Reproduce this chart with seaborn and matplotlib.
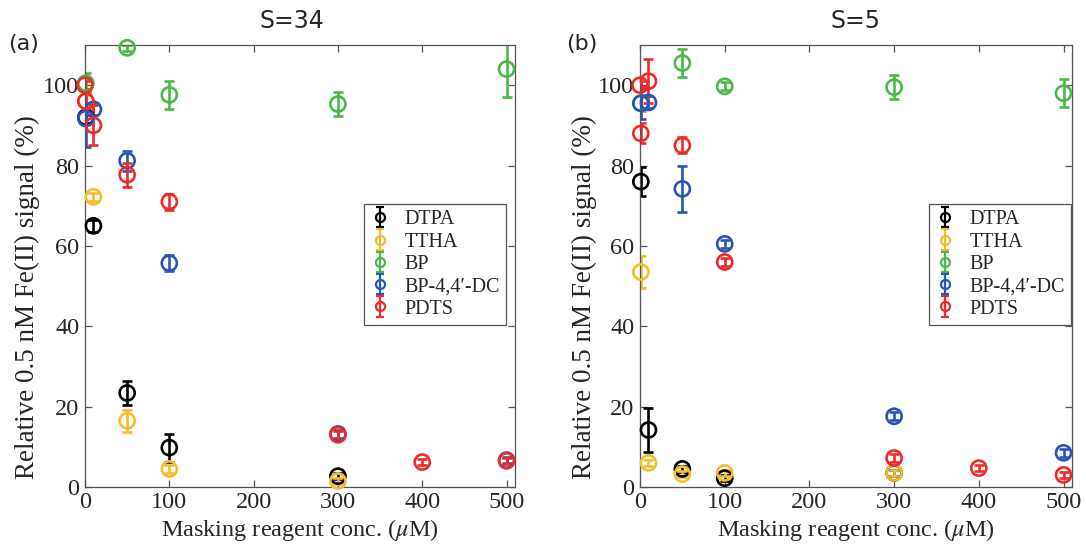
import numpy as np
import pandas as pd
import matplotlib
matplotlib.use("Agg")
import matplotlib.pyplot as plt
import seaborn as sns

# ---------------- data ----------------
reagents = ["DTPA", "TTHA", "BP", "BP-4,4\u2032-DC", "PDTS"]
colors = ["#000000", "#F2BE30", "#4CB848", "#2A55B8", "#EE2A2A"]

# panel (a) S=34
a_dtpa_x = [1, 10, 50, 100, 300]
a_dtpa_y = [92, 65, 23.4, 9.8, 2.7]
a_dtpa_e = [1.5, 1.5, 2.9, 3.5, 0.8]
a_ttha_x = [1, 10, 50, 100, 300]
a_ttha_y = [96, 72.2, 16.5, 4.5, 1.5]
a_ttha_e = [1.5, 1.0, 2.7, 1.0, 0.8]
a_bp_x = [1, 50, 100, 300, 500]
a_bp_y = [100.5, 109.3, 97.6, 95.3, 104]
a_bp_e = [2.5, 0.8, 3.5, 3.0, 7.0]
a_bpdc_x = [1, 10, 50, 100, 300, 500]
a_bpdc_y = [91.7, 94, 81.2, 55.7, 13.2, 6.7]
a_bpdc_e = [7.0, 1.5, 2.5, 2.0, 1.0, 0.8]
a_pdts_x = [0, 1, 10, 50, 100, 300, 400, 500]
a_pdts_y = [100, 96, 90, 77.7, 71, 13, 6.2, 6.5]
a_pdts_e = [1.0, 2.0, 5.0, 3.0, 2.0, 1.0, 0.8, 0.8]

# panel (b) S=5
b_dtpa_x = [1, 10, 50, 100, 300]
b_dtpa_y = [76, 14.2, 4.5, 2.2, 3.5]
b_dtpa_e = [3.7, 5.5, 0.8, 0.8, 0.8]
b_ttha_x = [1, 10, 50, 100, 300]
b_ttha_y = [53.5, 6, 3.2, 3.5, 3.5]
b_ttha_e = [4.0, 0.8, 0.8, 0.8, 0.8]
b_bp_x = [1, 50, 100, 300, 500]
b_bp_y = [95.5, 105.5, 99.7, 99.5, 98]
b_bp_e = [2.0, 3.5, 1.0, 3.0, 3.5]
b_bpdc_x = [1, 10, 50, 100, 300, 500]
b_bpdc_y = [95.5, 95.7, 74.2, 60.5, 17.6, 8.5]
b_bpdc_e = [4.0, 1.5, 5.8, 1.0, 1.0, 1.0]
b_pdts_x = [0, 1, 10, 50, 100, 300, 400, 500]
b_pdts_y = [100, 88, 101, 85, 56, 7.2, 4.7, 3.0]
b_pdts_e = [1.0, 2.5, 5.5, 2.0, 1.0, 1.0, 0.8, 0.8]

x_ticks = [0, 100, 200, 300, 400, 500]
y_ticks = [0, 20, 40, 60, 80, 100]
titles = ["S=34", "S=5"]
panel_labels = ["(a)", "(b)"]
xlabel = r"Masking reagent conc. ($\mu$M)"
ylabel = "Relative 0.5 nM Fe(II) signal (%)"


def make_df(series):
    rows = []
    for name, (xs, ys, es) in zip(reagents, series):
        for x, y, e in zip(xs, ys, es):
            rows.append({"reagent": name, "conc": x, "signal": y, "err": e})
    return pd.DataFrame(rows)


df_a = make_df([(a_dtpa_x, a_dtpa_y, a_dtpa_e), (a_ttha_x, a_ttha_y, a_ttha_e),
                (a_bp_x, a_bp_y, a_bp_e), (a_bpdc_x, a_bpdc_y, a_bpdc_e),
                (a_pdts_x, a_pdts_y, a_pdts_e)])
df_b = make_df([(b_dtpa_x, b_dtpa_y, b_dtpa_e), (b_ttha_x, b_ttha_y, b_ttha_e),
                (b_bp_x, b_bp_y, b_bp_e), (b_bpdc_x, b_bpdc_y, b_bpdc_e),
                (b_pdts_x, b_pdts_y, b_pdts_e)])

# ---------------- style ----------------
sns.set_theme(style="ticks")
plt.rcParams["font.family"] = ["Liberation Serif", "DejaVu Serif"]
plt.rcParams["mathtext.fontset"] = "stix"
plt.rcParams["axes.edgecolor"] = "#555555"
plt.rcParams["xtick.color"] = "#555555"
plt.rcParams["ytick.color"] = "#555555"
plt.rcParams["xtick.labelcolor"] = "#262626"
plt.rcParams["ytick.labelcolor"] = "#262626"

fig = plt.figure(figsize=(10.86, 5.53), dpi=100)
ax_a = fig.add_axes([85 / 1086, 66 / 553, 430 / 1086, 442 / 553])
ax_b = fig.add_axes([640 / 1086, 66 / 553, 432 / 1086, 442 / 553])

palette = dict(zip(reagents, colors))

for ax, df, title, tx, leg_x, ylx in [(ax_a, df_a, titles[0], 0.482, 0.979, -0.105),
                                      (ax_b, df_b, titles[1], 0.5, 0.998, -0.10)]:
    for name in reagents:
        d = df[df["reagent"] == name]
        ax.errorbar(d["conc"], d["signal"], yerr=d["err"], fmt="none",
                    ecolor=palette[name], elinewidth=1.9, capsize=3.8,
                    capthick=1.9, zorder=2, clip_on=True)
        sns.scatterplot(data=d, x="conc", y="signal", ax=ax, marker="o",
                        s=118, color=palette[name], legend=False, zorder=3,
                        clip_on=False)
    # make markers hollow
    for coll in ax.collections:
        if isinstance(coll, matplotlib.collections.PathCollection):
            fc = coll.get_facecolors()
            coll.set_edgecolors(fc)
            coll.set_facecolors("none")
            coll.set_linewidths(1.9)

    # legend proxies
    handles = []
    for name in reagents:
        h = ax.errorbar([np.nan], [np.nan], yerr=[np.nan], fmt="o",
                        color=palette[name], mfc="none", mec=palette[name],
                        ms=6.5, mew=1.6, elinewidth=1.6, capsize=2.8,
                        capthick=1.6, label=name)
        handles.append(h)
    leg = ax.legend(handles=handles, labels=reagents, loc="upper right",
                    bbox_to_anchor=(leg_x, 0.640), fontsize=14.5,
                    frameon=True, fancybox=False, framealpha=1,
                    edgecolor="#555555", handlelength=1.0,
                    handletextpad=0.7, labelspacing=0.16, borderpad=0.3,
                    borderaxespad=0)
    leg.get_frame().set_linewidth(0.9)

    ax.set_xlim(0, 510)
    ax.set_ylim(0, 110)
    ax.set_xticks(x_ticks)
    ax.set_yticks(y_ticks)
    ax.tick_params(direction="in", top=True, right=True, length=5,
                   width=0.9, labelsize=17.5)
    ax.tick_params(axis="y", pad=4)
    for sp in ax.spines.values():
        sp.set_visible(True)
        sp.set_linewidth(0.9)
    ax.set_xlabel(xlabel, fontsize=17.5, color="#262626", labelpad=3)
    ax.set_ylabel(ylabel, fontsize=19.5, color="#262626")
    ax.yaxis.set_label_coords(ylx, 0.43)
    ax.set_title(title, fontsize=17, family="DejaVu Sans", pad=12, x=tx)

fig.text(8 / 1086, 1 - 44 / 553, panel_labels[0], fontsize=16,
         family="DejaVu Sans", va="center", ha="left")
fig.text(566 / 1086, 1 - 44 / 553, panel_labels[1], fontsize=16,
         family="DejaVu Sans", va="center", ha="left")

fig.savefig("out.png", dpi=100)
